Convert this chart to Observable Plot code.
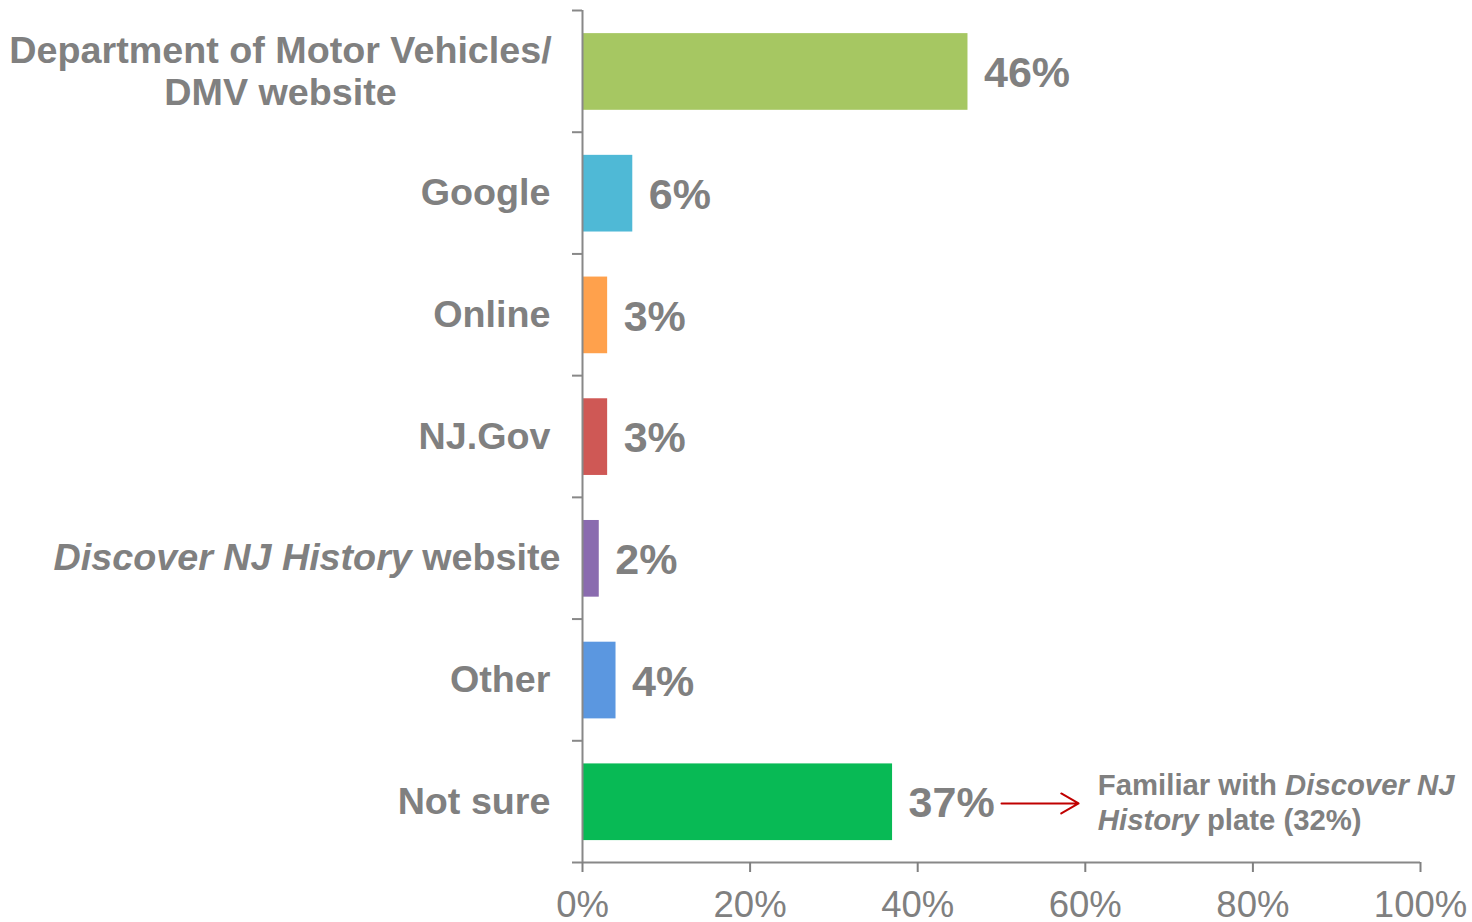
<!DOCTYPE html>
<html><head><meta charset="utf-8">
<script src="https://cdn.jsdelivr.net/npm/d3@7"></script>
<script src="https://cdn.jsdelivr.net/npm/@observablehq/plot@0.6"></script>
<style>body{margin:0;background:#fff} svg{display:block}</style>
</head><body><div id="chart"></div>
<script>
const categories = ["Department of Motor Vehicles/\nDMV website","Google","Online","NJ.Gov","Discover NJ History website","Other","Not sure"];
const values = [46, 6, 3, 3, 2, 4, 37];
const colors = ["#A6C762","#4FB9D6","#FFA14C","#CF5855","#8A6BAF","#5B97E0","#08BA55"];
const xTicks = [0, 20, 40, 60, 80, 100];
const annotationText = "Familiar with Discover NJ\nHistory plate (32%)";
const annotationArrow = [{x1: 50, x2: 59.2, category: "Not sure"}];
const annotationTextX = 61.5;
const italicPhrases = ["Discover NJ History", "Discover NJ", "History"];

const gray = "#808080";
const axisGray = "#888888";
const data = categories.map((c, i) => ({category: c, value: values[i], color: colors[i], i}));
const idx = c => categories.indexOf(c);

const plot = Plot.plot({
  width: 1472, height: 922,
  marginLeft: 582, marginRight: 52, marginTop: 10, marginBottom: 60,
  style: {fontFamily: "'Liberation Sans', Arial, sans-serif", background: "white"},
  x: {domain: [0, 100]},
  y: {domain: [0, categories.length], range: [10, 862]},
  marks: [
    Plot.rectX(data, {x1: 0, x2: "value", y1: d => d.i + 0.19, y2: d => d.i + 0.82, fill: d => d.color}),
    Plot.ruleX([0], {stroke: axisGray, strokeWidth: 2}),
    Plot.ruleY([categories.length], {stroke: axisGray, strokeWidth: 2}),
    Plot.axisY(d3.range(categories.length + 1), {tickSize: 10, tickFormat: () => "", color: axisGray, strokeWidth: 2, label: null}),
    Plot.axisX(xTicks, {tickSize: 10, tickPadding: 19, tickFormat: d => d + "%", fontSize: 36.5, color: gray, strokeWidth: 2, label: null}),
    // category labels
    Plot.text(data.filter(d => d.i > 0 && !d.category.startsWith("Discover")), {
      x: 0, y: d => d.i + 0.5, text: "category", textAnchor: "end", dx: -32,
      fontSize: 37.7, fontWeight: "bold", fill: gray
    }),
    Plot.text(data.filter(d => d.category.startsWith("Discover")), {
      x: 0, y: d => d.i + 0.5, text: "category", textAnchor: "end", dx: -22,
      fontSize: 37.7, fontWeight: "bold", fill: gray
    }),
    Plot.text(data.filter(d => d.i === 0), {
      x: 0, y: d => d.i + 0.5, text: "category", textAnchor: "middle", dx: -302, dy: -1, lineHeight: 1.12,
      fontSize: 37.7, fontWeight: "bold", fill: gray
    }),
    // value labels
    Plot.text(data, {
      x: "value", y: d => d.i + 0.5, text: d => d.value + "%", textAnchor: "start", dx: 16, dy: 2,
      fontSize: 43, fontWeight: "bold", fill: gray
    }),
    // annotation
    Plot.arrow(annotationArrow, {
      x1: "x1", x2: "x2", y1: d => idx(d.category) + 0.5 + 0.015, y2: d => idx(d.category) + 0.5 + 0.015,
      stroke: "#C00000", strokeWidth: 2, headLength: 15, headAngle: 60
    }),
    Plot.text([annotationText], {
      x: annotationTextX, y: idx("Not sure") + 0.5, text: d => d, textAnchor: "start", lineHeight: 1.2,
      fontSize: 29.3, fontWeight: "bold", fill: gray
    })
  ]
});

// italicize phrases
const re = new RegExp("(" + italicPhrases.join("|") + ")");
plot.querySelectorAll("text").forEach(t => {
  const kids = t.querySelectorAll("tspan");
  const lines = kids.length ? [...kids] : [t];
  lines.forEach(el => {
    const s = el.textContent;
    if (!re.test(s)) return;
    el.textContent = "";
    s.split(re).forEach(part => {
      if (!part) return;
      const ts = document.createElementNS("http://www.w3.org/2000/svg", "tspan");
      ts.textContent = part;
      if (italicPhrases.includes(part)) ts.setAttribute("font-style", "italic");
      el.appendChild(ts);
    });
  });
});

document.getElementById("chart").appendChild(plot);
</script>
</body></html>
